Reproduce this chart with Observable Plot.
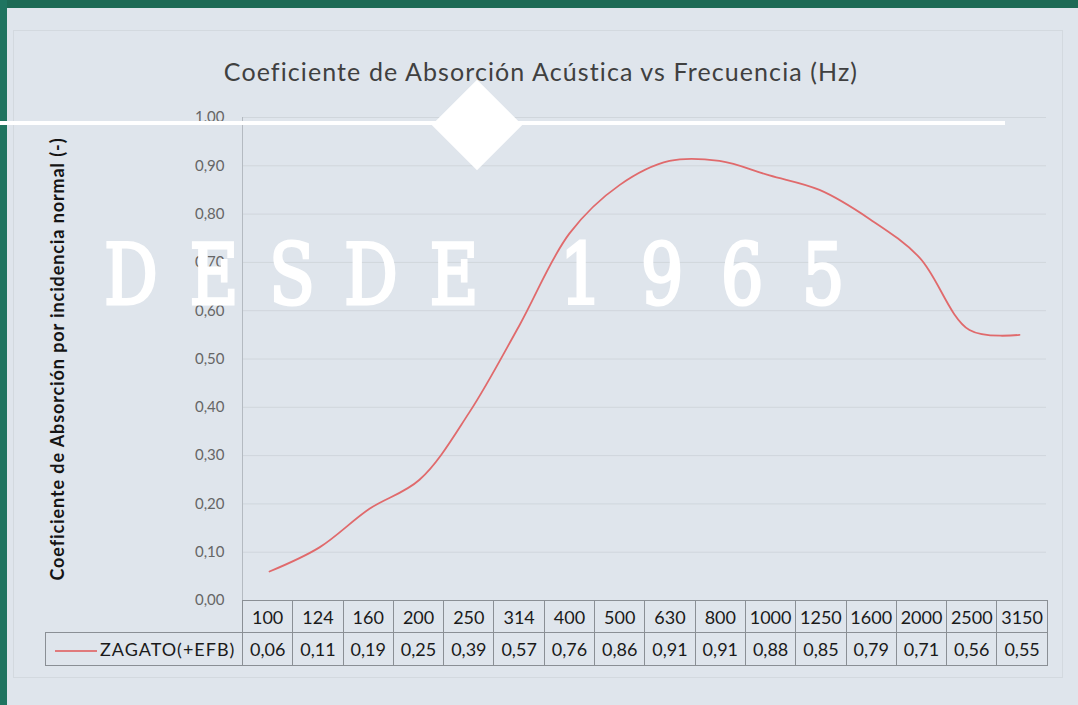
<!DOCTYPE html>
<html><head><meta charset="utf-8">
<script src="https://cdn.jsdelivr.net/npm/d3@7"></script>
<script src="https://cdn.jsdelivr.net/npm/@observablehq/plot@0.6"></script>
<style>
html,body{margin:0;padding:0;}
body{width:1078px;height:705px;overflow:hidden;background:#dfe5ec;position:relative;font-family:Lato,"Open Sans",sans-serif;}
#greenTop{position:absolute;left:0;top:0;width:1078px;height:8px;background:#1d6a55;}
#greenLeft{position:absolute;left:0;top:0;width:7px;height:705px;background:#1f7460;}
#frame{position:absolute;left:13px;top:30px;width:1048px;height:646px;border:1px solid #d3d9df;}
#title{position:absolute;left:0;width:1082px;top:56px;text-align:center;font-size:25px;letter-spacing:1.1px;color:#404040;white-space:nowrap;}
#chart{position:absolute;left:0;top:0;}
#tbl{position:absolute;left:45px;top:600px;border-collapse:collapse;table-layout:fixed;width:1002px;}
#tbl td{border:1px solid #8a8f95;padding:0;text-align:center;font-size:18px;color:#1a1a1a;overflow:hidden;white-space:nowrap;}
#tbl tr.h td{height:31px;}
#tbl tr.d td{height:32px;}
#tbl td.blank{border:none;}
#tbl td.leg{text-align:left;letter-spacing:1px;}
#tbl td.leg span.sw{display:inline-block;width:42px;height:2px;background:#e07a7c;vertical-align:middle;margin:0 3px 0 9px;}
#wm{position:absolute;left:0;top:0;pointer-events:none;}
</style></head>
<body>
<div id="greenTop"></div><div id="greenLeft"></div>
<div id="frame"></div>
<div id="chart"></div>
<div id="title">Coeficiente de Absorción Acústica vs Frecuencia (Hz)</div>
<table id="tbl"></table>
<svg id="wm" width="1078" height="705">
  <rect x="0" y="121" width="1005" height="4" fill="#ffffff"/>
  <rect x="445" y="93" width="64" height="64" fill="#ffffff" transform="rotate(45 477 125)"/>
  <g id="wmtext"></g>
</svg>
<script>
const frequencies = ["100","124","160","200","250","314","400","500","630","800","1000","1250","1600","2000","2500","3150"];
const absorption = [0.06,0.11,0.19,0.25,0.39,0.57,0.76,0.86,0.91,0.91,0.88,0.85,0.79,0.71,0.56,0.55];
const seriesName = "ZAGATO(+EFB)";
const yTicks = [0,0.1,0.2,0.3,0.4,0.5,0.6,0.7,0.8,0.9,1.0];
const yLabel = "Coeficiente de Absorción por incidencia normal (-)";
const watermark = "DESDE 1965";

const fmt = v => v.toFixed(2).replace(".", ",");
const data = frequencies.map((f, i) => ({f, a: absorption[i]}));

const plot = Plot.plot({
  width: 1078, height: 705,
  marginLeft: 242, marginRight: 32, marginTop: 117, marginBottom: 105,
  style: {background: "transparent", fontFamily: "Lato, sans-serif", fontSize: "15px"},
  x: {type: "band", domain: frequencies, padding: 0, axis: null},
  y: {domain: [0, 1]},
  marks: [
    Plot.gridY(yTicks, {stroke: "#d0d6dc", strokeOpacity: 1}),
    Plot.frame({anchor: "left", stroke: "#b4bac1"}),
    Plot.axisY({ticks: yTicks, tickFormat: fmt, tickSize: 0, tickPadding: 18, fontSize: 15, fill: "#666",
      label: yLabel, labelAnchor: "center", labelOffset: 191, labelArrow: "none"}),
    Plot.line(data, {x: "f", y: "a", curve: "catmull-rom", stroke: "#e06a6c", strokeWidth: 1.8})
  ]
});
document.getElementById("chart").appendChild(plot);
d3.select(plot).selectAll('g[aria-label="y-axis label"], g[aria-label="y-axis label"] text')
  .attr("font-weight", "bold").attr("font-size", 18).attr("letter-spacing", 0.9).attr("fill", "#141414");

// watermark decoration (one glyph per cell, condensed slab look)
const wmCenters = [131, 214, 292, 371, 454, null, 581, 662, 742, 823];
const wg = d3.select("#wmtext");
watermark.split("").forEach((ch, i) => {
  if (ch === " ") return;
  wg.append("text")
    .attr("transform", `translate(${wmCenters[i]},304) scale(0.8,1)`)
    .attr("text-anchor", "middle")
    .attr("font-family", "'DejaVu Serif', 'Liberation Serif', serif")
    .attr("font-size", 84)
    .attr("fill", "#ffffff")
    .attr("stroke", "#ffffff")
    .attr("stroke-width", 3.2)
    .attr("stroke-linejoin", "miter")
    .text(ch);
});

const tbl = d3.select("#tbl");
const cg = tbl.append("colgroup");
cg.append("col").style("width", "197px");
frequencies.forEach(() => cg.append("col").style("width", "50.3px"));
const h = tbl.append("tr").attr("class", "h");
h.append("td").attr("class", "blank");
frequencies.forEach(f => h.append("td").text(f));
const r = tbl.append("tr").attr("class", "d");
const leg = r.append("td").attr("class", "leg");
leg.append("span").attr("class", "sw");
leg.append("span").text(seriesName);
absorption.forEach(a => r.append("td").text(fmt(a)));
</script>
</body></html>
